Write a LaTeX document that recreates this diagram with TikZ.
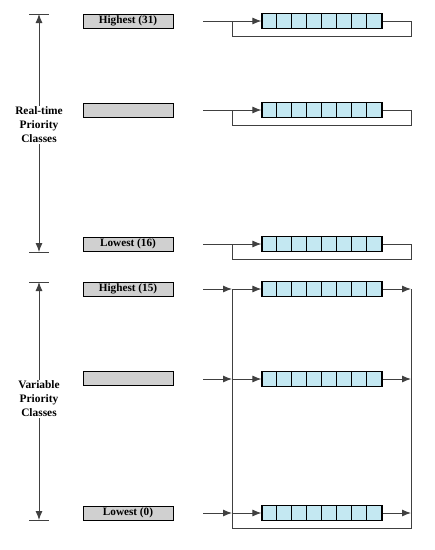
\documentclass[tikz,border=0pt]{standalone}
\usepackage{fontspec}
\setmainfont{Liberation Serif}
\usetikzlibrary{arrows.meta,positioning}
\definecolor{qblue}{RGB}{196,232,242}
\definecolor{pgray}{RGB}{208,208,208}
\tikzset{
  prio/.style={draw, fill=pgray, line width=0.9pt, minimum width=90pt, minimum height=14pt,
    inner sep=0pt, font=\fontsize{11.2}{13}\selectfont\bfseries},
  queue/.style={draw, fill=qblue, line width=1.2pt, minimum width=120pt, minimum height=15pt, inner sep=0pt},
  classlabel/.style={align=center, inner sep=1pt, font=\fontsize{11.4}{14}\selectfont\bfseries},
  link/.style={draw=black!75, line width=0.9pt},
  tip/.style={-{Latex[length=9pt,width=7pt]}}
}

\begin{document}
\begin{tikzpicture}[x=1pt,y=-1pt]
\useasboundingbox (0,0) rectangle (435,550);

% priority levels
\node[prio] (p31) at (128,21) {Highest (31)};
\node[prio] (p30) at (128,110) {};
\node[prio] (p16) at (128,244) {Lowest (16)};
\node[prio] (p15) at (128,289) {Highest (15)};
\node[prio] (p14) at (128,378.5) {};
\node[prio] (p0) at (128,513) {Lowest (0)};

% class axes
\node[classlabel] (rt) at (39,125) {Real-time\\Priority\\Classes};
\coordinate (rttop) at (39,14);
\coordinate (rtbot) at (39,252);
\draw[link,tip] (rt) -- (rttop);
\draw[link,tip] (rt) -- (rtbot);
\draw[link] ([xshift=-10pt]rttop) -- ([xshift=10pt]rttop);
\draw[link] ([xshift=-10pt]rtbot) -- ([xshift=10pt]rtbot);

\node[classlabel] (var) at (39,399) {Variable\\Priority\\Classes};
\coordinate (vartop) at (39,282);
\coordinate (varbot) at (39,520);
\draw[link,tip] (var) -- (vartop);
\draw[link,tip] (var) -- (varbot);
\draw[link] ([xshift=-10pt]vartop) -- ([xshift=10pt]vartop);
\draw[link] ([xshift=-10pt]varbot) -- ([xshift=10pt]varbot);

% ready queues
\foreach \n/\y in {1/21,2/110,3/244,4/289,5/379,6/513} {
  \node[queue] (q\n) at (322,\y) {};
  \foreach \i in {1,...,7}
    \draw[line width=0.7pt] ([xshift=\i*15pt]q\n.north west) -- ([xshift=\i*15pt]q\n.south west);
  \coordinate (in\n) at (203,\y);
  \coordinate (jl\n) at (232,\y);
  \coordinate (jr\n) at (411,\y);
}

% real-time: round robin within the level
\foreach \n in {1,2,3} {
  \draw[link,tip] (in\n) -- (q\n);
  \draw[link] (q\n) -- (jr\n) -- ++(0,15) -| (jl\n);
}

% variable: threads move between levels
\foreach \n in {4,5,6} {
  \draw[link,tip] (in\n) -- (jl\n);
  \draw[link,tip] (jl\n) -- (q\n);
  \draw[link,tip] (q\n) -- (jr\n);
}
\coordinate (bl) at (232,528);
\coordinate (br) at (411,528);
\draw[link] (jl4) -- (bl) -- (br) -- (jr4);

\end{tikzpicture}
\end{document}
